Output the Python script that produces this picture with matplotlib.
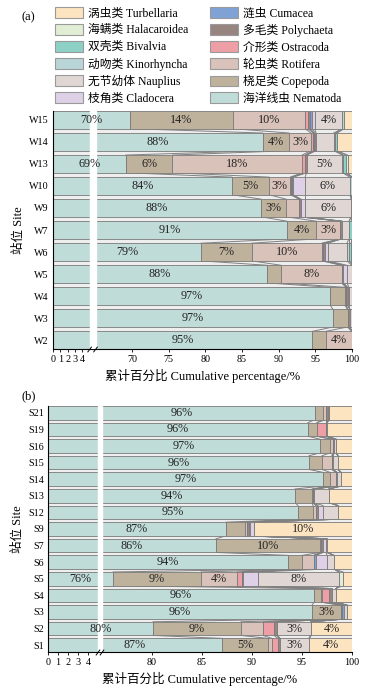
import numpy as np
import matplotlib
matplotlib.use('Agg')
import matplotlib.pyplot as plt
from matplotlib.patches import Patch

plt.rcParams['font.family'] = ['Liberation Serif', 'Noto Sans CJK SC']
plt.rcParams['axes.unicode_minus'] = False

# taxa, in stacking order (left to right)
taxa = ['海洋线虫 Nematoda', '桡足类 Copepoda', '轮虫类 Rotifera', '介形类 Ostracoda',
        '多毛类 Polychaeta', '涟虫 Cumacea', '枝角类 Cladocera', '无节幼体 Nauplius',
        '动吻类 Kinorhyncha', '双壳类 Bivalvia', '海螨类 Halacaroidea', '涡虫类 Turbellaria']
colors = ['#c0dcd9', '#bfb29c', '#d9c2b9', '#ee9ea5', '#978580', '#7fa2d6',
          '#ddd0e7', '#e0d7d5', '#b9d5d7', '#8dd0c6', '#e1edd4', '#fde4c1']

# panel (a)
sites_w = ['W15', 'W14', 'W13', 'W10', 'W9', 'W7', 'W6', 'W5', 'W4', 'W3', 'W2']
nem_w = [69.7, 87.8, 69.1, 83.6, 87.6, 91.1, 79.4, 88.4, 97.0, 97.4, 94.6]
cop_w = [14.0, 3.6, 6.4, 5.1, 3.4, 4.0, 6.9, 1.9, 2.0, 2.0, 1.8]
rot_w = [9.9, 3.0, 17.7, 2.9, 1.8, 3.3, 9.6, 8.3, 0.2, 0.0, 3.6]
ost_w = [0.4, 0.3, 0.4, 0.1, 0.0, 0.0, 0.1, 0.0, 0.0, 0.0, 0.0]
pol_w = [0.3, 0.1, 0.2, 0.1, 0.2, 0.2, 0.3, 0.2, 0.2, 0.3, 0.0]
cum_w = [0.2, 0.2, 0.0, 0.2, 0.0, 0.0, 0.0, 0.0, 0.0, 0.0, 0.0]
cla_w = [0.4, 0.1, 0.0, 1.6, 0.6, 0.0, 0.4, 0.5, 0.2, 0.0, 0.0]
nau_w = [3.8, 2.4, 4.9, 6.1, 6.3, 1.0, 2.6, 0.7, 0.4, 0.3, 0.0]
kin_w = [0.2, 0.2, 0.1, 0.3, 0.0, 0.0, 0.3, 0.0, 0.0, 0.0, 0.0]
biv_w = [0.0, 0.2, 0.4, 0.0, 0.0, 0.4, 0.3, 0.0, 0.0, 0.0, 0.0]
hal_w = [0.0, 0.0, 0.2, 0.0, 0.0, 0.0, 0.0, 0.0, 0.0, 0.0, 0.0]
tur_w = [1.1, 2.1, 0.6, 0.0, 0.1, 0.0, 0.1, 0.0, 0.0, 0.0, 0.0]

# panel (b)
sites_s = ['S21', 'S19', 'S16', 'S15', 'S14', 'S13', 'S12', 'S9', 'S7', 'S6',
           'S5', 'S4', 'S3', 'S2', 'S1']
nem_s = [96.3, 95.6, 96.8, 95.7, 97.1, 94.3, 94.6, 87.4, 86.4, 93.6, 76.1, 96.2, 96.0, 80.1, 87.0]
cop_s = [0.8, 0.9, 1.0, 1.3, 0.7, 1.7, 1.5, 1.9, 10.4, 1.4, 8.8, 0.7, 2.9, 8.8, 4.6]
rot_s = [0.3, 0.0, 0.3, 1.0, 0.6, 0.1, 0.3, 0.2, 0.1, 1.2, 3.6, 0.1, 0.0, 2.2, 0.4]
ost_s = [0.0, 0.9, 0.0, 0.0, 0.0, 0.0, 0.0, 0.0, 0.0, 0.0, 0.5, 0.7, 0.0, 1.1, 0.6]
pol_s = [0.2, 0.1, 0.1, 0.1, 0.1, 0.1, 0.2, 0.2, 0.2, 0.0, 0.1, 0.3, 0.1, 0.3, 0.2]
cum_s = [0.0, 0.0, 0.0, 0.0, 0.0, 0.0, 0.0, 0.1, 0.0, 0.2, 0.0, 0.0, 0.2, 0.0, 0.0]
cla_s = [0.0, 0.0, 0.0, 0.0, 0.0, 0.0, 0.5, 0.4, 0.3, 1.1, 1.5, 0.0, 0.0, 0.0, 0.0]
nau_s = [0.1, 0.0, 0.2, 0.5, 0.4, 1.5, 1.5, 0.0, 0.1, 0.7, 8.1, 0.4, 0.3, 3.4, 2.9]
kin_s = [0.0] * 15
biv_s = [0.0] * 15
hal_s = [0.0, 0.0, 0.0, 0.0, 0.0, 0.0, 0.0, 0.0, 0.0, 0.0, 0.4, 0.0, 0.0, 0.0, 0.0]
tur_s = [2.3, 2.5, 1.6, 1.4, 1.1, 2.3, 1.4, 9.8, 2.5, 1.8, 0.9, 1.6, 0.5, 4.1, 4.3]

ticks_w = [0, 1, 2, 3, 4, 70, 75, 80, 85, 90, 95, 100]
ticks_s = [0, 1, 2, 3, 4, 80, 85, 90, 95, 100]


def broken_scale(lo, g):
    def fwd(x):
        x = np.asarray(x, dtype=float)
        return np.where(x <= 5, x, np.where(x >= lo, x - lo + 5 + g, 5 + (x - 5) * g / (lo - 5)))

    def inv(y):
        y = np.asarray(y, dtype=float)
        return np.where(y <= 5, y, np.where(y >= 5 + g, y + lo - 5 - g, 5 + (y - 5) * (lo - 5) / g))
    return fwd, inv


def draw_panel(ax, sites, data, lo, g, ticks, h, fs):
    fwd, inv = broken_scale(lo, g)
    ax.set_xscale('function', functions=(fwd, inv))
    data = np.array(data)          # taxa x sites
    n = len(sites)
    ys = np.arange(n)[::-1]
    cum = np.vstack([np.zeros(n), np.cumsum(data, axis=0)])
    for k in range(len(data)):
        ax.barh(ys, data[k], left=cum[k], height=h, color=colors[k],
                edgecolor='#7a7a7a', linewidth=0.6, zorder=2)
    # links between neighbouring bars
    for i in range(n - 1):
        for k in range(1, len(cum)):
            ax.plot([cum[k, i], cum[k, i + 1]], [ys[i] - h / 2, ys[i + 1] + h / 2],
                    color='#808080', lw=0.7, zorder=1.8)
    # value labels
    for i in range(n):
        for k in range(len(data)):
            v = data[k, i]
            if k == 0:
                xc = float(inv((fwd(0) + fwd(cum[1, i])) / 2))
            elif v >= 2.8:
                xc = (cum[k, i] + cum[k + 1, i]) / 2
            else:
                continue
            ax.text(xc, ys[i], f'{v:.0f}%', ha='center', va='center',
                    fontsize=fs, color='#222222', zorder=5)
    ax.axvspan(5, lo, color='white', zorder=4)
    ax.set_xlim(0, 100)
    ax.set_ylim(-h / 2, n - 1 + h / 2)
    ax.set_facecolor('#eeeeee')
    ax.set_xticks(ticks)
    ax.set_xticklabels([str(t) for t in ticks])
    ax.set_yticks(ys)
    ax.set_yticklabels(sites)
    ax.tick_params(axis='both', labelsize=7.3, length=2.5, width=0.6, pad=1.5)
    ax.tick_params(axis='y', length=0, pad=3)
    for s in ['top', 'right']:
        ax.spines[s].set_visible(False)
    for s in ['left', 'bottom']:
        ax.spines[s].set_linewidth(0.8)
    # break marks
    tot = float(fwd(100))
    for xv in [5, lo]:
        xa = float(fwd(xv)) / tot
        ax.plot([xa - 0.006, xa + 0.006], [-0.012, 0.008], transform=ax.transAxes,
                color='k', lw=0.7, clip_on=False, zorder=6)
    ax.set_xlabel('累计百分比 Cumulative percentage/%', fontsize=9, labelpad=4)
    ax.set_ylabel('站位 Site', fontsize=9, labelpad=3)


fig = plt.figure(figsize=(3.72, 6.94), dpi=100)
W, H = 372.0, 694.0
ax_a = fig.add_axes([53 / W, 1 - 349 / H, 299 / W, 238 / H])
ax_b = fig.add_axes([48 / W, 1 - 652 / H, 304 / W, 246 / H])

data_w = [nem_w, cop_w, rot_w, ost_w, pol_w, cum_w, cla_w, nau_w, kin_w, biv_w, hal_w, tur_w]
data_s = [nem_s, cop_s, rot_s, ost_s, pol_s, cum_s, cla_s, nau_s, kin_s, biv_s, hal_s, tur_s]
draw_panel(ax_a, sites_w, data_w, 65, 0.8, ticks_w, 0.8, 8.7)
draw_panel(ax_b, sites_s, data_s, 75, 0.4, ticks_s, 0.82, 8.7)

# legend: two columns
order_left = [11, 10, 9, 8, 7, 6]
order_right = [5, 4, 3, 2, 1, 0]
for order, x0 in [(order_left, 55), (order_right, 210)]:
    handles = [Patch(facecolor=colors[k], edgecolor='#9a9a9a', linewidth=0.8) for k in order]
    fig.legend(handles, [taxa[k] for k in order], loc='upper left',
               bbox_to_anchor=(x0 / W, 1 - 7 / H), frameon=False, fontsize=8.5,
               handlelength=2.35, handleheight=1.05, labelspacing=0.37,
               handletextpad=0.42, borderpad=0, borderaxespad=0)

fig.text(22 / W, 1 - 17 / H, '(a)', fontsize=9, va='center')
fig.text(22 / W, 1 - 396 / H, '(b)', fontsize=9, va='center')

fig.savefig('out.png', dpi=100)
